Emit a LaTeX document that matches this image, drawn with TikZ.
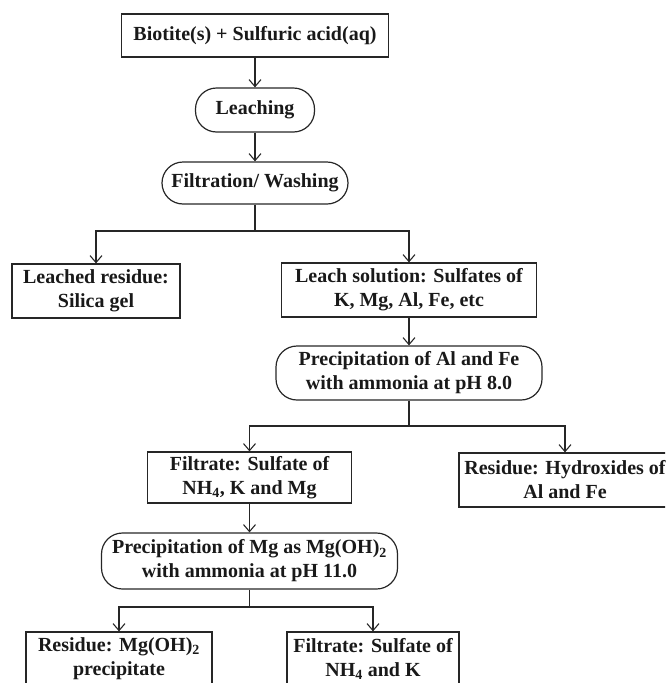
\documentclass[tikz,border=0pt]{standalone}
\usepackage{fontspec}
\setmainfont{Liberation Serif}
\usetikzlibrary{arrows.meta}
\begin{document}
\begin{tikzpicture}[x=1pt,y=-1pt,
  box/.style={draw=black!85, line width=1.2pt, rectangle, align=center, inner sep=0pt,
    font=\bfseries\fontsize{20}{24}\selectfont, text=black!90},
  pill/.style={box, rounded corners=21pt},
  ln/.style={draw=black!85, line width=1.2pt},
  arr/.style={ln, -{Straight Barb[length=7pt,width=12pt,line width=1.1pt]}}]
\useasboundingbox (0,0) rectangle (665,683);
\clip (0,0) rectangle (665,683);

\node[box, minimum width=267pt, minimum height=43pt] (top) at (255,35.5) {Biotite(s) + Sulfuric acid(aq)};
\node[pill, minimum width=119pt, minimum height=44pt] (leach) at (255,110) {Leaching};
\node[pill, minimum width=186pt, minimum height=42pt] (filt) at (255,183) {Filtration/ Washing};

\node[box, minimum width=168pt, minimum height=54pt] (res1) at (96,291) {Leached residue:\\Silica gel};
\node[box, minimum width=255pt, minimum height=54pt] (sol) at (409,290) {Leach solution: Sulfates of\\K, Mg, Al, Fe, etc};
\node[pill, minimum width=266pt, minimum height=54pt] (prec1) at (409,373) {Precipitation of Al and Fe\\with ammonia at pH 8.0};

\node[box, minimum width=204pt, minimum height=51pt] (fil1) at (249.5,477.5) {Filtrate: Sulfate of\\NH\textsubscript{4}, K and Mg};
\node[box, minimum width=212pt, minimum height=54pt] (res2) at (565,480) {Residue: Hydroxides of\\Al and Fe};
\node[pill, minimum width=296pt, minimum height=56pt] (prec2) at (249.5,561) {Precipitation of Mg as Mg(OH)\textsubscript{2}\\with ammonia at pH 11.0};

\node[box, minimum width=186pt, minimum height=54pt] (res3) at (119,659) {Residue: Mg(OH)\textsubscript{2}\\precipitate};
\node[box, minimum width=172pt, minimum height=54pt] (fil2) at (373,659) {Filtrate: Sulfate of\\NH\textsubscript{4} and K};

\coordinate (j1) at (255,231);
\coordinate (j2) at (409,426);
\coordinate (j3) at (249.5,607);

\draw[arr] (top) -- (leach);
\draw[arr] (leach) -- (filt);
\draw[ln] (filt) -- (j1);
\draw[arr] (j1) -| (res1.north);
\draw[arr] (j1) -| (sol.north);
\draw[arr] (sol) -- (prec1);
\draw[ln] (prec1) -- (j2);
\draw[arr] (j2) -| (fil1.north);
\draw[arr] (j2) -| (res2.north);
\draw[arr] (fil1) -- (prec2);
\draw[ln] (prec2) -- (j3);
\draw[arr] (j3) -| (res3.north);
\draw[arr] (j3) -| (fil2.north);
\end{tikzpicture}
\end{document}
